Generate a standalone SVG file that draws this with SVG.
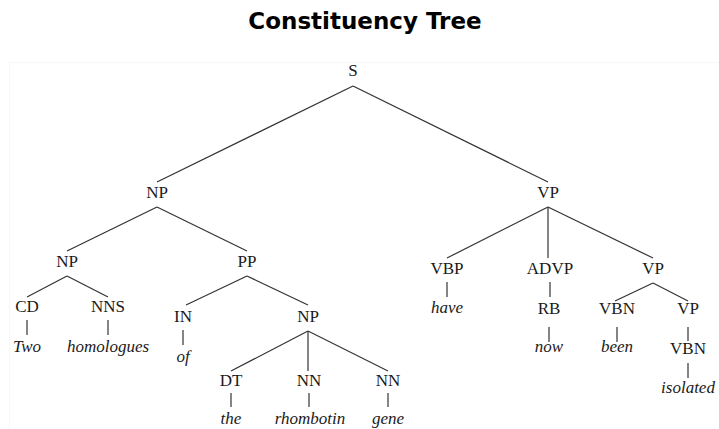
<svg xmlns="http://www.w3.org/2000/svg" width="719" height="429" viewBox="0 0 719 429">
<style>
.t{font-family:"Liberation Serif","Times New Roman",serif;font-size:17px;fill:#1a1a1a;text-anchor:middle}
.w{font-style:italic}
.title{font-family:"DejaVu Sans",sans-serif;font-weight:bold;font-size:23px;fill:#000;text-anchor:middle}
#edges line{stroke:#333;stroke-width:1.2}
</style>
<rect x="0" y="0" width="719" height="429" fill="#fff"/>
<rect x="9.5" y="62.5" width="712" height="370" fill="none" stroke="#f7f7f7" stroke-width="1"/>
<text class="title" x="365" y="29">Constituency Tree</text>
<g id="edges">
<line x1="353" y1="86" x2="157" y2="182"/>
<line x1="353" y1="86" x2="548" y2="182"/>
<line x1="157" y1="207" x2="67" y2="251"/>
<line x1="157" y1="207" x2="247" y2="251"/>
<line x1="548" y1="207" x2="447" y2="258"/>
<line x1="548" y1="207" x2="548" y2="258"/>
<line x1="548" y1="207" x2="653" y2="258"/>
<line x1="67" y1="276" x2="27" y2="297"/>
<line x1="67" y1="276" x2="108" y2="297"/>
<line x1="247" y1="276" x2="186" y2="305"/>
<line x1="247" y1="276" x2="308" y2="305"/>
<line x1="27" y1="320" x2="27" y2="335"/>
<line x1="108" y1="320" x2="108" y2="335"/>
<line x1="183" y1="330" x2="183" y2="345"/>
<line x1="308" y1="331" x2="231" y2="371"/>
<line x1="308" y1="331" x2="308" y2="371"/>
<line x1="308" y1="331" x2="388" y2="371"/>
<line x1="231" y1="393" x2="231" y2="407"/>
<line x1="309" y1="393" x2="309" y2="407"/>
<line x1="388" y1="393" x2="388" y2="407"/>
<line x1="447" y1="282" x2="447" y2="297"/>
<line x1="550" y1="282" x2="550" y2="297"/>
<line x1="653" y1="283" x2="615" y2="301"/>
<line x1="653" y1="283" x2="688" y2="301"/>
<line x1="549" y1="327" x2="549" y2="342"/>
<line x1="617" y1="327" x2="617" y2="342"/>
<line x1="688" y1="327" x2="688" y2="341"/>
<line x1="688" y1="363" x2="688" y2="378"/>
</g>
<g id="n-S"><text class="t" x="353" y="76">S</text></g>
<g id="n-NP1"><text class="t" x="157" y="198">NP</text></g>
<g id="n-VP1"><text class="t" x="548" y="198">VP</text></g>
<g id="n-NP2"><text class="t" x="67" y="267">NP</text></g>
<g id="n-PP"><text class="t" x="247" y="267">PP</text></g>
<g id="n-VBP"><text class="t" x="447" y="274">VBP</text></g>
<g id="n-ADVP"><text class="t" x="550" y="274">ADVP</text></g>
<g id="n-VP2"><text class="t" x="653" y="274">VP</text></g>
<g id="n-CD"><text class="t" x="27" y="312">CD</text></g>
<g id="n-NNS"><text class="t" x="108" y="312">NNS</text></g>
<g id="n-IN"><text class="t" x="183" y="322">IN</text></g>
<g id="n-NP3"><text class="t" x="308" y="322">NP</text></g>
<g id="w-Two"><text class="t w" x="27" y="352">Two</text></g>
<g id="w-homologues"><text class="t w" x="108" y="352">homologues</text></g>
<g id="w-of"><text class="t w" x="183" y="362">of</text></g>
<g id="n-DT"><text class="t" x="231" y="386">DT</text></g>
<g id="n-NN1"><text class="t" x="309" y="386">NN</text></g>
<g id="n-NN2"><text class="t" x="388" y="386">NN</text></g>
<g id="w-the"><text class="t w" x="231" y="424">the</text></g>
<g id="w-rhombotin"><text class="t w" x="310" y="424">rhombotin</text></g>
<g id="w-gene"><text class="t w" x="388" y="424">gene</text></g>
<g id="w-have"><text class="t w" x="447" y="313">have</text></g>
<g id="n-RB"><text class="t" x="549" y="314">RB</text></g>
<g id="n-VBN1"><text class="t" x="617" y="314">VBN</text></g>
<g id="n-VP3"><text class="t" x="688" y="314">VP</text></g>
<g id="w-now"><text class="t w" x="549" y="352">now</text></g>
<g id="w-been"><text class="t w" x="617" y="352">been</text></g>
<g id="n-VBN2"><text class="t" x="688" y="354">VBN</text></g>
<g id="w-isolated"><text class="t w" x="688" y="393">isolated</text></g>
</svg>
